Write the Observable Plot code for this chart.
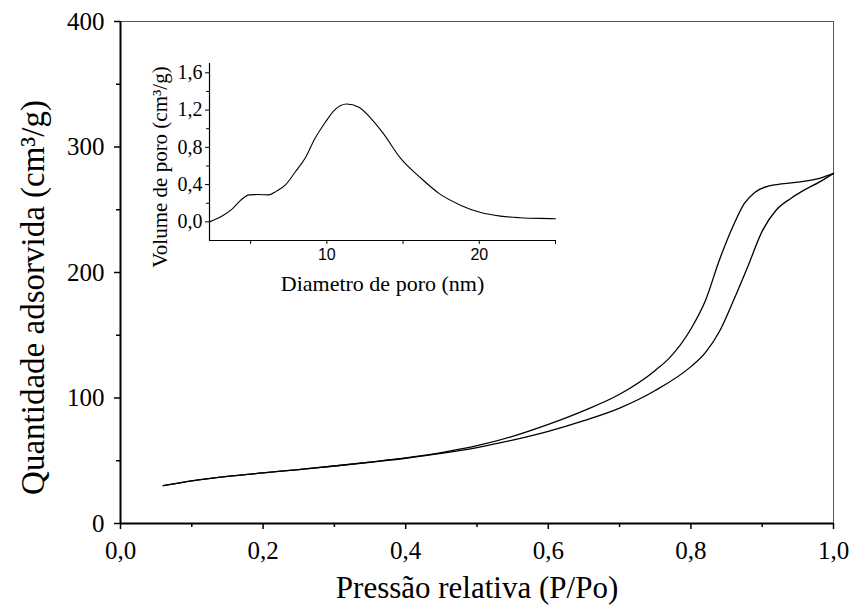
<!DOCTYPE html>
<html>
<head>
<meta charset="utf-8">
<script src="https://cdn.jsdelivr.net/npm/d3@7"></script>
<script src="https://cdn.jsdelivr.net/npm/@observablehq/plot@0.6"></script>
<style>
  body { margin: 0; background: white; }
  #wrap { position: relative; width: 852px; height: 615px; }
  #wrap svg { position: absolute; left: 0; top: 0; }
</style>
</head>
<body>
<div id="wrap"></div>
<script>
// ---- Main isotherm data ----
const adsP = [0.06, 0.10, 0.15, 0.20, 0.25, 0.30, 0.35, 0.40, 0.45, 0.50, 0.55, 0.60, 0.65, 0.70, 0.75, 0.80, 0.82, 0.84, 0.86, 0.88, 0.90, 0.92, 0.94, 0.96, 0.98, 1.00];
const adsQ = [30.2, 34.0, 37.5, 40.3, 43.0, 45.8, 48.8, 52.0, 55.8, 60.5, 66.5, 73.5, 82, 92, 106, 125, 136, 153, 178, 205, 233, 250, 259, 266, 272, 279];
const desP = [0.06, 0.10, 0.15, 0.20, 0.25, 0.30, 0.35, 0.40, 0.45, 0.50, 0.55, 0.60, 0.65, 0.70, 0.75, 0.77, 0.80, 0.82, 0.84, 0.86, 0.875, 0.89, 0.91, 0.95, 0.98, 1.00];
const desQ = [30.2, 34.0, 37.5, 40.3, 43.0, 45.8, 48.9, 52.3, 56.5, 62, 69.5, 79, 90, 103, 122, 132, 155, 177, 210, 238, 255, 264, 269, 272, 275, 279];

// ---- Inset pore size distribution ----
const diam = [2.3, 3.1, 3.8, 4.4, 4.9, 5.5, 6.2, 6.7, 7.3, 7.9, 8.6, 9.2, 9.9, 10.5, 11.3, 12.1, 13.0, 13.7, 14.8, 16.1, 17.4, 18.8, 20.1, 21.4, 22.7, 24.0, 25.0];
const vol = [0.0, 0.06, 0.14, 0.24, 0.29, 0.293, 0.29, 0.33, 0.40, 0.53, 0.69, 0.89, 1.07, 1.20, 1.265, 1.23, 1.09, 0.95, 0.69, 0.48, 0.30, 0.177, 0.10, 0.062, 0.045, 0.037, 0.034];

// ---- Ticks / labels ----
const xMajor = [0, 0.2, 0.4, 0.6, 0.8, 1.0];
const xMinor = [0.1, 0.3, 0.5, 0.7, 0.9];
const yMajor = [0, 100, 200, 300, 400];
const yMinor = [50, 150, 250, 350];
const inXMajor = [10, 20];
const inXMinor = [5, 15, 25];
const inYMajor = [0, 0.4, 0.8, 1.2, 1.6];
const inYMinor = [0.2, 0.6, 1.0, 1.4];
const xTitle = "Pressão relativa (P/Po)";
const yTitle = "Quantidade adsorvida (cm³/g)";
const inXTitle = "Diametro de poro (nm)";
const inYTitle = "Volume de poro (cm³/g)";

const ads = adsP.map((p, i) => ({p, q: adsQ[i]}));
const des = desP.map((p, i) => ({p, q: desQ[i]}));
const psd = diam.map((d, i) => ({d, v: vol[i]}));
const comma = (k) => (d) => d.toFixed(k).replace(".", ",");
const blank = () => "";

const main = Plot.plot({
  width: 852, height: 615,
  marginLeft: 120, marginRight: 19, marginTop: 21, marginBottom: 92,
  x: {domain: [0, 1]},
  y: {domain: [0, 400]},
  style: {fontFamily: "Liberation Serif", background: "transparent", color: "black"},
  marks: [
    Plot.ruleY([400], {stroke: "#555", strokeWidth: 1}),
    Plot.ruleX([1], {stroke: "#555", strokeWidth: 1}),
    Plot.axisX(xMajor, {tickSize: 6, tickPadding: 12, tickFormat: comma(1), fontSize: 25, strokeWidth: 1.5, label: null}),
    Plot.axisX(xMinor, {tickSize: 4, tickFormat: blank, strokeWidth: 1.5, label: null}),
    Plot.axisY(yMajor, {tickSize: 6, tickPadding: 10, tickFormat: d => String(d), fontSize: 25, strokeWidth: 1.5, label: null}),
    Plot.axisY(yMinor, {tickSize: 4, tickFormat: blank, strokeWidth: 1.5, label: null}),
    Plot.ruleY([0], {strokeWidth: 2}),
    Plot.ruleX([0], {strokeWidth: 2}),
    Plot.line(ads, {x: "p", y: "q", curve: "monotone-x", strokeWidth: 1.3}),
    Plot.line(des, {x: "p", y: "q", curve: "monotone-x", strokeWidth: 1.3}),
    Plot.text([xTitle], {text: d => d, frameAnchor: "bottom", dy: 74, fontSize: 31}),
    Plot.text([yTitle], {text: d => d, frameAnchor: "left", textAnchor: "middle", rotate: -90, dx: -87, dy: 25, fontSize: 33})
  ]
});

const inset = Plot.plot({
  width: 852, height: 615,
  marginLeft: 209, marginRight: 297, marginTop: 63, marginBottom: 375,
  x: {domain: [2.3, 25]},
  y: {domain: [-0.2, 1.7]},
  style: {fontFamily: "Liberation Serif", background: "transparent", color: "black"},
  marks: [
    Plot.axisX(inXMajor, {tickSize: 4, tickPadding: 4, fontSize: 16, fontFamily: "Liberation Sans", label: null}),
    Plot.axisX(inXMinor, {tickSize: 4, tickFormat: blank, label: null}),
    Plot.axisY(inYMajor, {tickSize: 4, tickPadding: 3, tickFormat: comma(1), fontSize: 20, label: null}),
    Plot.axisY(inYMinor, {tickSize: 3, tickFormat: blank, label: null}),
    Plot.ruleX([2.3], {strokeWidth: 1.2}),
    Plot.ruleY([-0.2], {strokeWidth: 1.2}),
    Plot.line(psd, {x: "d", y: "v", curve: "monotone-x", strokeWidth: 1.1}),
    Plot.text([inXTitle], {text: d => d, frameAnchor: "bottom", dy: 50, fontSize: 22}),
    Plot.text([inYTitle], {text: d => d, frameAnchor: "left", textAnchor: "middle", rotate: -90, dx: -49, dy: 15, fontSize: 21})
  ]
});

const wrap = document.getElementById("wrap");
wrap.appendChild(main);
wrap.appendChild(inset);
</script>
</body>
</html>
